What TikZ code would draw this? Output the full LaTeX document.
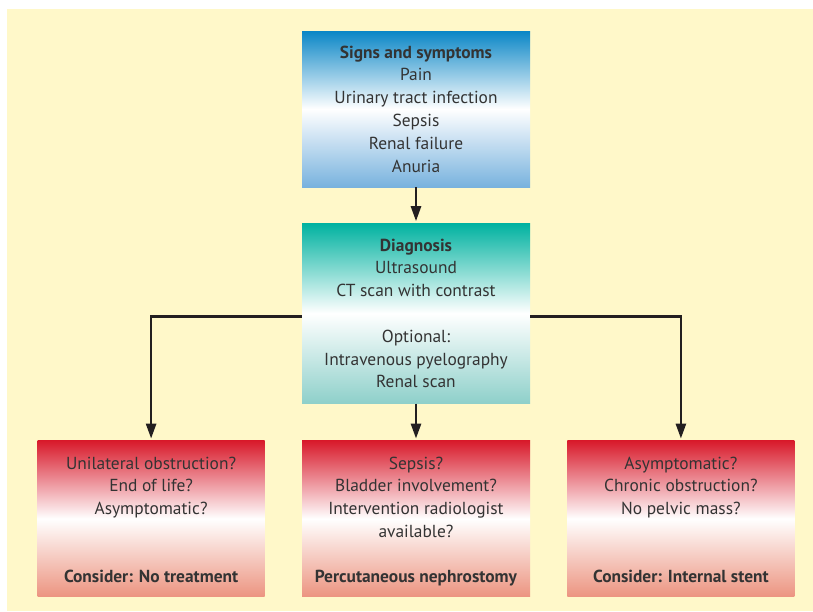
\documentclass[tikz,border=0pt]{standalone}
\usepackage{fontspec}
\setmainfont{PT Sans}
\usepackage{xcolor}
\usetikzlibrary{positioning}
\usetikzlibrary{arrows.meta}
\definecolor{bgyellow}{HTML}{FFF8C9}
\definecolor{inktext}{HTML}{333333}
\definecolor{inkline}{HTML}{231F20}
\definecolor{bluetop}{HTML}{0A86C6}
\definecolor{bluebot}{HTML}{78B2DE}
\definecolor{tealtop}{HTML}{00B2A0}
\definecolor{tealbot}{HTML}{8ED0CA}
\definecolor{redtop}{HTML}{D81A2B}
\definecolor{redbot}{HTML}{EC9480}

\begin{document}
\begin{tikzpicture}[x=1pt, y=1pt, every node/.style={font=\fontsize{17.4}{22.8}\selectfont, text=inktext, align=center, inner sep=0pt}, box/.style={rectangle, minimum width=228pt, top color=#1top, bottom color=#1bot, middle color=white}, arrow/.style={-{Triangle[length=15pt,width=10pt]}, line width=2.6pt, draw=inkline, shorten >=2pt}, node distance=36pt]
  \useasboundingbox (0,0) rectangle (813,-611);
  \fill[bgyellow] (7,-9) rectangle (813,-611);
  \node[box=blue, minimum height=156pt] (signs) at (416,-109) {\textbf{Signs and symptoms}\\Pain\\Urinary tract infection\\Sepsis\\Renal failure\\Anuria};
  \node[box=teal, minimum height=180pt, below=36pt of signs] (diag) {\textbf{Diagnosis}\\Ultrasound\\CT scan with contrast\\[22.8pt]Optional:\\Intravenous pyelography\\Renal scan};
  \node[box=red, minimum height=156pt, below=37pt of diag] (nephro) {};
  \node[box=red, minimum height=156pt, minimum width=227pt, left=37pt of nephro] (notreat) {};
  \node[box=red, minimum height=156pt, minimum width=227pt, right=37pt of nephro] (stent) {};
  % questions and outcome in each box
  \node[anchor=north, yshift=-16pt] (q1) at (notreat.north) {Unilateral obstruction?\\End of life?\\Asymptomatic?};
  \node[anchor=north, yshift=-16pt] (q2) at (nephro.north) {Sepsis?\\Bladder involvement?\\Intervention radiologist\\available?};
  \node[anchor=north, yshift=-16pt] (q3) at (stent.north) {Asymptomatic?\\Chronic obstruction?\\No pelvic mass?};
  \node[anchor=base, yshift=15pt] (c1) at (notreat.south) {\textbf{Consider: No treatment}};
  \node[anchor=base, yshift=15pt] (c2) at (nephro.south) {\textbf{Percutaneous nephrostomy}};
  \node[anchor=base, yshift=15pt] (c3) at (stent.south) {\textbf{Consider: Internal stent}};
  \draw[arrow] (signs) -- (diag);
  \draw[arrow] (diag) -- (nephro);
  \draw[arrow] ([yshift=-3pt]diag.west) -| (notreat.north);
  \draw[arrow] ([yshift=-3pt]diag.east) -| (stent.north);
\end{tikzpicture}
\end{document}
